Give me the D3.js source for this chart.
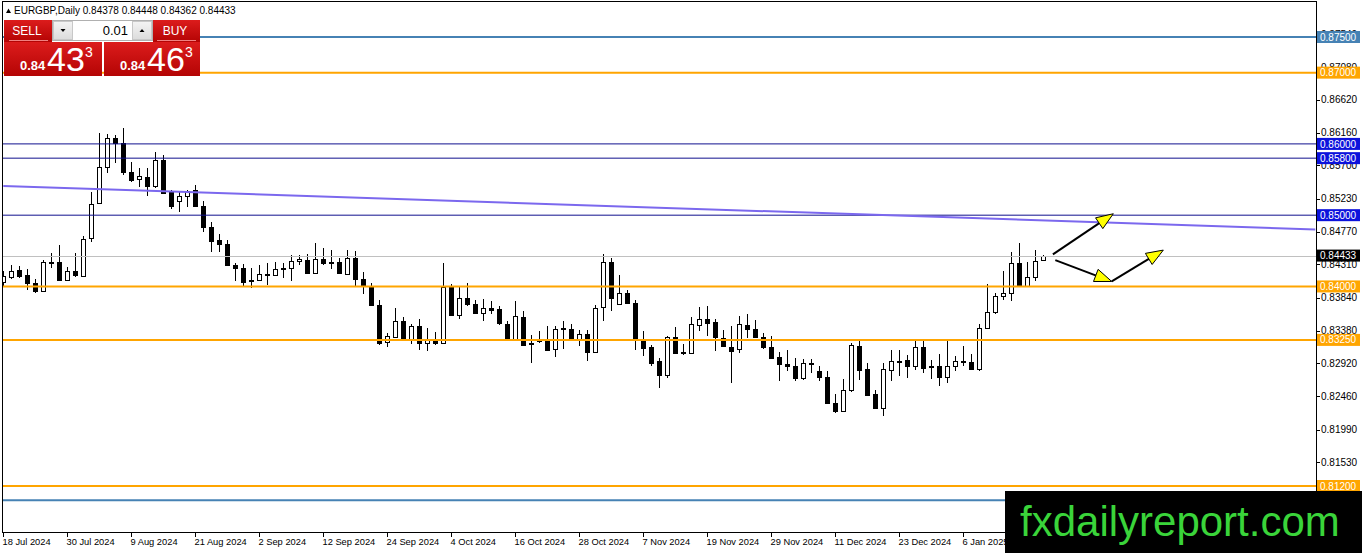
<!DOCTYPE html>
<html>
<head>
<meta charset="utf-8">
<script src="https://cdn.jsdelivr.net/npm/d3@7/dist/d3.min.js"></script>
<style>
  body { margin: 0; background: #fff; }
  svg { display: block; font-family: "Liberation Sans", Arial, sans-serif; }
</style>
</head>
<body>
<svg width="1362" height="553"></svg>
<script>
// EURGBP daily, 18 Jul 2024 -> 20 Jan 2025, one value per bar
const opens = [.8405,.8413,.8423,.8416,.8405,.8393,.8434,.8434,.8409,.8422,.8415,.8467,.8517,.8567,.8608,.8601,.8560,.8551,.8554,.8542,
  .8578,.8532,.8520,.8527,.8535,.8513,.8483,.8465,.8459,.8430,.8426,.8409,.8408,.8416,.8416,.8424,.8426,.8436,.8437,.8419,
  .8438,.8432,.8434,.8418,.8440,.8410,.8399,.8374,.8321,.8330,.8352,.8326,.8344,.8320,.8326,.8320,.8399,.8360,.8384,.8375,
  .8363,.8370,.8368,.8348,.8327,.8357,.8321,.8324,.8323,.8312,.8340,.8340,.8324,.8333,.8308,.8371,.8434,.8375,.8391,.8377,
  .8325,.8315,.8295,.8275,.8329,.8307,.8308,.8346,.8355,.8350,.8327,.8315,.8312,.8346,.8340,.8329,.8315,.8301,.8291,.8288,
  .8271,.8292,.8281,.8273,.8237,.8226,.8255,.8317,.8284,.8249,.8229,.8284,.8296,.8297,.8289,.8315,.8288,.8288,.8273,.8288,
  .8295,.8294,.8284,.8341,.8364,.8387,.8391,.8433,.8401,.8413,.84378];
const highs = [.8421,.8430,.8429,.8425,.8410,.8437,.8447,.8458,.8427,.8447,.8471,.8532,.8616,.8614,.8613,.8622,.8575,.8566,.8566,.8589,
  .8585,.8535,.8533,.8536,.8542,.8520,.8490,.8473,.8465,.8433,.8431,.8426,.8430,.8433,.8435,.8433,.8444,.8444,.8446,.8461,
  .8454,.8451,.8440,.8451,.8450,.8420,.8405,.8381,.8334,.8370,.8357,.8347,.8355,.8342,.8336,.8433,.8404,.8399,.8405,.8381,
  .8382,.8380,.8372,.8351,.8379,.8365,.8332,.8338,.8345,.8344,.8351,.8347,.8339,.8339,.8374,.8446,.8440,.8416,.8395,.8381,
  .8338,.8318,.8299,.8331,.8343,.8319,.8357,.8371,.8373,.8355,.8339,.8345,.8359,.8362,.8353,.8334,.8330,.8308,.8311,.8299,
  .8298,.8298,.8288,.8282,.8249,.8270,.8320,.8323,.8292,.8255,.8292,.8311,.8311,.8304,.8323,.8325,.8297,.8305,.8323,.8303,
  .8316,.8305,.8348,.8403,.8391,.8422,.8448,.8461,.8435,.8451,.84448];
const lows = [.8400,.8410,.8412,.8395,.8391,.8393,.8426,.8408,.8409,.8413,.8415,.8463,.8517,.8559,.8573,.8557,.8547,.8540,.8527,.8538,
  .8530,.8508,.8505,.8512,.8512,.8476,.8449,.8449,.8428,.8407,.8401,.8398,.8407,.8402,.8414,.8412,.8408,.8430,.8419,.8418,
  .8430,.8424,.8418,.8416,.8401,.8389,.8373,.8318,.8315,.8327,.8324,.8319,.8311,.8309,.8318,.8320,.8359,.8354,.8372,.8362,
  .8351,.8362,.8346,.8325,.8325,.8317,.8292,.8320,.8310,.8301,.8312,.8325,.8317,.8295,.8308,.8351,.8366,.8375,.8375,.8311,
  .8303,.8289,.8257,.8271,.8305,.8304,.8306,.8337,.8330,.8310,.8315,.8265,.8306,.8327,.8327,.8312,.8298,.8267,.8281,.8268,
  .8269,.8278,.8267,.8236,.8222,.8224,.8252,.8269,.8246,.8228,.8218,.8268,.8275,.8271,.8283,.8279,.8270,.8260,.8265,.8282,
  .8288,.8283,.8281,.8340,.8361,.8381,.8380,.8401,.8401,.8408,.84362];
const closes = [.8414,.8422,.8415,.8405,.8394,.8434,.8432,.8409,.8421,.8416,.8467,.8515,.8567,.8608,.8601,.8560,.8549,.8555,.8542,.8578,
  .8531,.8513,.8527,.8534,.8513,.8483,.8464,.8459,.8429,.8426,.8407,.8407,.8417,.8418,.8424,.8426,.8436,.8439,.8419,.8438,
  .8432,.8434,.8418,.8440,.8410,.8400,.8374,.8320,.8330,.8352,.8326,.8344,.8320,.8326,.8320,.8399,.8360,.8384,.8375,.8363,
  .8370,.8367,.8348,.8325,.8359,.8318,.8319,.8325,.8311,.8340,.8341,.8325,.8333,.8308,.8370,.8434,.8384,.8391,.8377,.8325,
  .8314,.8292,.8275,.8329,.8307,.8308,.8348,.8355,.8350,.8329,.8316,.8310,.8347,.8341,.8329,.8315,.8299,.8291,.8288,.8271,
  .8292,.8293,.8273,.8237,.8226,.8255,.8318,.8283,.8248,.8229,.8284,.8296,.8296,.8289,.8315,.8285,.8287,.8273,.8289,.8295,
  .8294,.8284,.8341,.8364,.8387,.8391,.8433,.8401,.8413,.8436,.84433];

// time axis labels, one every 8 bars
const dateLabels = ["18 Jul 2024","30 Jul 2024","9 Aug 2024","21 Aug 2024","2 Sep 2024","12 Sep 2024","24 Sep 2024","4 Oct 2024",
  "16 Oct 2024","28 Oct 2024","7 Nov 2024","19 Nov 2024","29 Nov 2024","11 Dec 2024","23 Dec 2024","6 Jan 2025"];
const priceTicks = [0.8754,0.8708,0.8662,0.8616,0.8570,0.8523,0.8477,0.8431,0.8384,0.8338,0.8292,0.8246,0.8199,0.8153];

// horizontal levels drawn on the chart
const levelPrices = [0.8750, 0.8700, 0.8600, 0.8580, 0.8500, 0.8400, 0.8325, 0.8120, 0.8100];
const levelKinds  = ["steel","orange","blue","blue","blue","orange","orange","orange","steel"];
const bidPrice = 0.84433;

// falling trend line (bar index, price)
const trendBars = [0, 164];
const trendPrices = [0.8541, 0.8480];

// scenario arrows: [fromBar, fromPrice, toBar, toPrice]
const arrows = [
  [131.2, 0.8445, 138.75, 0.8502],
  [131.5, 0.8437, 138.55, 0.8407],
  [138.55, 0.8407, 145.0, 0.8451]
];

const plotL = 3, plotR = 1316, plotT = 2, plotB = 532;
const kindColor = { steel: "#4682b4", orange: "#ffa500", blue: "#10108e" };
const kindLabel = { steel: "#4682b4", orange: "#ffa500", blue: "#0c12dc" };
const kindWidth = { steel: 2, orange: 2, blue: 1 };

const svg = d3.select("svg");

let x = d3.scaleLinear().domain([0, 164]).range([3.3, 1315.3]);
let y = d3.scaleLinear().domain([0.812, 0.875]).range([486, 37]);

let defs = svg.append("defs");
defs.append("clipPath").attr("id", "plot")
  .append("rect").attr("x", plotL).attr("y", plotT).attr("width", plotR - plotL).attr("height", plotB - plotT);

let plot = svg.append("g").attr("clip-path", "url(#plot)");

// candles
let candles = opens.map((o, i) => ({ i: i, o: o, h: highs[i], l: lows[i], c: closes[i] }));

let cg = plot.append("g").attr("shape-rendering", "crispEdges");
cg.selectAll("line").data(candles).enter().append("line")
  .attr("x1", d => Math.round(x(d.i)) + 0.5)
  .attr("x2", d => Math.round(x(d.i)) + 0.5)
  .attr("y1", d => y(d.h))
  .attr("y2", d => y(d.l))
  .attr("stroke", "#000");

cg.selectAll("rect").data(candles).enter().append("rect")
  .attr("x", d => Math.round(x(d.i)) - 1.5)
  .attr("width", 4)
  .attr("y", d => Math.round(y(Math.max(d.o, d.c))) + 0.5)
  .attr("height", d => Math.max(1, Math.round(y(Math.min(d.o, d.c)) - y(Math.max(d.o, d.c)))))
  .attr("fill", d => d.c >= d.o ? "#fff" : "#000")
  .attr("stroke", "#000");

// bid line
plot.append("line")
  .attr("x1", plotL).attr("x2", plotR)
  .attr("y1", Math.round(y(bidPrice)) + 0.5).attr("y2", Math.round(y(bidPrice)) + 0.5)
  .attr("stroke", "#c0c0c0");

// level lines
plot.selectAll(".level").data(levelPrices).enter().append("line")
  .attr("class", "level")
  .attr("x1", plotL).attr("x2", plotR)
  .attr("y1", d => y(d)).attr("y2", d => y(d))
  .attr("stroke", (d, i) => kindColor[levelKinds[i]])
  .attr("stroke-width", (d, i) => kindWidth[levelKinds[i]]);

// trend line
plot.append("line")
  .attr("x1", x(trendBars[0])).attr("y1", y(trendPrices[0]))
  .attr("x2", x(trendBars[1])).attr("y2", y(trendPrices[1]))
  .attr("stroke", "#7b68ee").attr("stroke-width", 2);

// arrows
arrows.forEach(a => {
  let x1 = x(a[0]), y1 = y(a[1]), x2 = x(a[2]), y2 = y(a[3]);
  let len = Math.hypot(x2 - x1, y2 - y1), ux = (x2 - x1) / len, uy = (y2 - y1) / len;
  let L = 17, W = 6.5;
  plot.append("line")
    .attr("x1", x1).attr("y1", y1).attr("x2", x2 - ux * L * 0.6).attr("y2", y2 - uy * L * 0.6)
    .attr("stroke", "#000").attr("stroke-width", 2);
  let pts = [[x2, y2],
    [x2 - ux * L - uy * W, y2 - uy * L + ux * W],
    [x2 - ux * L + uy * W, y2 - uy * L - ux * W]];
  plot.append("polygon")
    .attr("points", pts.map(p => p.join(",")).join(" "))
    .attr("fill", "#ffff00").attr("stroke", "#000").attr("stroke-width", 1);
});

// frame
svg.append("rect")
  .attr("x", plotL - 0.5).attr("y", plotT - 0.5)
  .attr("width", plotR - plotL + 1).attr("height", plotB - plotT + 1)
  .attr("fill", "none").attr("stroke", "#000").attr("shape-rendering", "crispEdges");

// price axis
let ya = svg.append("g").attr("shape-rendering", "crispEdges");
ya.selectAll("line").data(priceTicks).enter().append("line")
  .attr("x1", plotR).attr("x2", plotR + 4)
  .attr("y1", d => Math.round(y(d)) + 0.5).attr("y2", d => Math.round(y(d)) + 0.5)
  .attr("stroke", "#000");
ya.selectAll("text").data(priceTicks).enter().append("text")
  .attr("x", plotR + 5).attr("y", d => y(d)).attr("dy", "0.36em")
  .attr("font-size", 10).attr("fill", "#000")
  .text(d => d.toFixed(5));

// level labels (the 0.81000 one sits under the watermark, so it is left out)
let lab = svg.append("g");
levelPrices.forEach((p, i) => {
  if (y(p) > 490) return;
  lab.append("rect").attr("x", plotR + 1).attr("y", y(p) - 6).attr("width", 43).attr("height", 12)
    .attr("fill", kindLabel[levelKinds[i]]);
  lab.append("text").attr("x", plotR + 4).attr("y", y(p)).attr("dy", "0.36em")
    .attr("font-size", 10).attr("fill", "#fff").text(p.toFixed(5));
});
lab.append("rect").attr("x", plotR + 1).attr("y", y(bidPrice) - 6).attr("width", 43).attr("height", 12).attr("fill", "#000");
lab.append("text").attr("x", plotR + 4).attr("y", y(bidPrice)).attr("dy", "0.36em")
  .attr("font-size", 10).attr("fill", "#fff").text(bidPrice.toFixed(5));

// time axis
let xa = svg.append("g").attr("shape-rendering", "crispEdges");
dateLabels.forEach((t, k) => {
  let xp = Math.round(x(k * 8)) + 0.5;
  xa.append("line").attr("x1", xp).attr("x2", xp).attr("y1", plotB).attr("y2", plotB + 5).attr("stroke", "#000");
  xa.append("text").attr("x", xp - 1).attr("y", plotB + 13)
    .attr("font-size", 9.3).attr("fill", "#000").text(t);
});

// header
svg.append("path").attr("d", "M6,13 L8.5,8.5 L11,13 Z").attr("fill", "#000");
svg.append("text").attr("x", 14).attr("y", 14).attr("font-size", 10).attr("fill", "#000")
  .text("EURGBP,Daily  0.84378 0.84448 0.84362 0.84433");

// one-click trading panel
let g1 = defs.append("linearGradient").attr("id", "red").attr("x1", 0).attr("x2", 0).attr("y1", 0).attr("y2", 1);
g1.append("stop").attr("offset", "0%").attr("stop-color", "#dc1c1c");
g1.append("stop").attr("offset", "100%").attr("stop-color", "#b40404");
let g2 = defs.append("linearGradient").attr("id", "grey").attr("x1", 0).attr("x2", 0).attr("y1", 0).attr("y2", 1);
g2.append("stop").attr("offset", "0%").attr("stop-color", "#f4f4f4");
g2.append("stop").attr("offset", "100%").attr("stop-color", "#dcdcdc");

let tp = svg.append("g");
tp.append("rect").attr("x", 4).attr("y", 20).attr("width", 48).attr("height", 22).attr("fill", "url(#red)");
tp.append("rect").attr("x", 153).attr("y", 20).attr("width", 47).attr("height", 22).attr("fill", "url(#red)");
tp.append("line").attr("x1", 9).attr("x2", 48).attr("y1", 40.5).attr("y2", 40.5).attr("stroke", "#f08080");
tp.append("line").attr("x1", 157).attr("x2", 196).attr("y1", 40.5).attr("y2", 40.5).attr("stroke", "#f08080");
tp.append("text").attr("x", 27).attr("y", 35).attr("text-anchor", "middle").attr("font-size", 12).attr("fill", "#fff").text("SELL");
tp.append("text").attr("x", 175).attr("y", 35).attr("text-anchor", "middle").attr("font-size", 12).attr("fill", "#fff").text("BUY");

tp.append("rect").attr("x", 52.5).attr("y", 20.5).attr("width", 100).attr("height", 20).attr("fill", "#fff").attr("stroke", "#b0b0b0");
tp.append("rect").attr("x", 53.5).attr("y", 21.5).attr("width", 19).attr("height", 18).attr("fill", "url(#grey)").attr("stroke", "#c8c8c8");
tp.append("rect").attr("x", 132.5).attr("y", 21.5).attr("width", 19).attr("height", 18).attr("fill", "url(#grey)").attr("stroke", "#c8c8c8");
tp.append("path").attr("d", "M60.5,29 L65.5,29 L63,32 Z").attr("fill", "#000");
tp.append("path").attr("d", "M139.5,32 L144.5,32 L142,29 Z").attr("fill", "#000");
tp.append("text").attr("x", 128).attr("y", 35).attr("text-anchor", "end").attr("font-size", 13).attr("fill", "#000").text("0.01");

[[4, 98, "43"], [104, 96, "46"]].forEach(b => {
  let bx = b[0];
  tp.append("rect").attr("x", bx).attr("y", 42).attr("width", b[1]).attr("height", 34).attr("fill", "url(#red)");
  tp.append("text").attr("x", bx + 16).attr("y", 70).attr("font-size", 13).attr("font-weight", "bold")
    .attr("fill", "#fff").text("0.84");
  tp.append("text").attr("x", bx + 43).attr("y", 71).attr("font-size", 34).attr("fill", "#fff").text(b[2]);
  tp.append("text").attr("x", bx + 81).attr("y", 57).attr("font-size", 14).attr("fill", "#fff").text("3");
});

// watermark
svg.append("rect").attr("x", 1005).attr("y", 491).attr("width", 357).attr("height", 62).attr("fill", "#000");
svg.append("text").attr("x", 1020).attr("y", 536).attr("font-size", 42).attr("fill", "#3ad43a")
  .text("fxdailyreport.com");
</script>
</body>
</html>
